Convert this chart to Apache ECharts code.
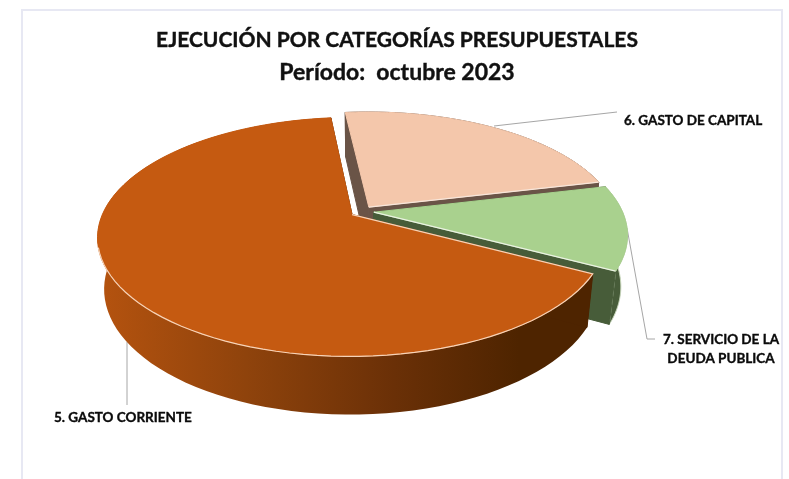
<!DOCTYPE html>
<html><head><meta charset="utf-8">
<style>html,body{margin:0;padding:0;background:#fff}#c{width:789px;height:479px}</style>
<script src="https://cdn.jsdelivr.net/npm/echarts@6/dist/echarts.min.js"></script>
</head><body><div id="c"></div>
<script>
var categories = ['5. GASTO CORRIENTE', '6. GASTO DE CAPITAL', '7. SERVICIO DE LA\nDEUDA PUBLICA'];
var shareValues = [65.5, 23, 11.5];
var topColors = ['#C55A11', '#F4C7AB', '#A9D18E'];
var titleLines = ['EJECUCIÓN POR CATEGORÍAS PRESUPUESTALES', 'Período:  octubre 2023'];

var firstSliceAngle = 118, explode = 0.048;
var view = {cx: 362, cy: 211.5, a: 114.2, b: 248.5, k: 0.1856, q: 0.975, h: 50};
var paint = [3, 1, 2];

function project(u, v, low) {
  var s = 1 / (1 - view.k * v), q = low ? view.q : 1;
  return [view.cx + view.b * u * s * q, view.cy + view.a * v * s * q + (low ? view.h * s : 0)];
}
var total = shareValues.reduce(function (a, b) { return a + b; }, 0);

function sliceShapes(i) {
  var before = 0;
  for (var j = 0; j < i; j++) before += shareValues[j];
  var t0 = firstSliceAngle + before / total * 360;
  var t1 = t0 + shareValues[i] / total * 360;
  var mid = (t0 + t1) / 2 * Math.PI / 180;
  var du = explode * Math.sin(mid), dv = -explode * Math.cos(mid);
  var arc = [], arcLow = [];
  for (var t = t0; t <= t1 + 0.001; t += (t1 - t0) / 90) {
    var r = t * Math.PI / 180, u = du + Math.sin(r), v = dv - Math.cos(r);
    arc.push(project(u, v, false));
    arcLow.push(project(u, v, true));
  }
  var apex = project(du, dv, false), apexLow = project(du, dv, true);
  var last = arc.length - 1;
  var front = i === 0 ? [apex].concat(arc.slice(0, 53)) : [apex, arc[last]];
  return {
    top: [apex].concat(arc),
    startWall: [apex, arc[0], arcLow[0], apexLow],
    endWall: [apex, arc[last], arcLow[last], apexLow],
    outer: arc.concat(arcLow.slice().reverse()),
    front: front
  };
}
var wallFill = [
  new echarts.graphic.LinearGradient(0, 0, 1, 0, [
    {offset: 0, color: '#B5530F'}, {offset: 0.3, color: '#8F430C'},
    {offset: 0.6, color: '#6A3007'}, {offset: 0.85, color: '#4E2400'}, {offset: 1, color: '#4E2400'}]),
  '#6A5447', '#475C39'
];
var edgeColors = ['#F6D3B8', '#F8E6DA', '#EAF2E2'];
function poly(points, fill, stroke, z2) {
  return {type: 'polygon', z2: z2, shape: {points: points}, style: {fill: fill, stroke: stroke || fill, lineWidth: 1}};
}
function renderSlice(params) {
  var i = params.dataIndex, g = sliceShapes(i), z = paint[i] * 10, w = wallFill[i];
  return {type: 'group', children: [
    poly(g.outer, w, i === 2 ? '#C9D8BC' : (i === 0 ? 'rgba(0,0,0,0)' : null), z),
    poly(g.startWall, i === 0 ? '#4E2400' : w, null, z + 1),
    poly(g.endWall, i === 0 ? '#4E2400' : w, null, z + 2),
    poly(g.top, topColors[i], null, z + 3),
    {type: 'polyline', z2: z + 4, shape: {points: g.front}, style: {stroke: edgeColors[i], lineWidth: 1.2, fill: null}}
  ]};
}
function leader(points) {
  return {type: 'polyline', shape: {points: points}, style: {stroke: '#A6A6A6', lineWidth: 1, fill: null}, z: 1};
}
function label(text, x, y, align) {
  return {type: 'text', x: x, y: y, z: 20, style: {text: text, fill: '#0A0A0A', stroke: '#0A0A0A', lineWidth: 0.35, align: align, verticalAlign: 'middle',
    font: 'bold 13.5px Lato', lineHeight: 19}};
}
var chart = echarts.init(document.getElementById('c'), null, {renderer: 'canvas'});
var titleRich = function (size) {
  return {fontFamily: 'Lato', fontWeight: 'bold', fontSize: size, lineHeight: 32, color: '#111111', textBorderColor: '#111111', textBorderWidth: 0.4};
};
chart.setOption({
  animation: false,
  backgroundColor: '#FFFFFF',
  title: {text: '{a|' + titleLines[0] + '}\n{b|' + titleLines[1] + '}', left: 392, top: 19.5, textAlign: 'center',
    textStyle: {rich: {a: titleRich(21), b: titleRich(23)}}},
  graphic: [
    {type: 'rect', z: 0, shape: {x: 22, y: 10, width: 760, height: 490}, style: {fill: '#FFFFFF', stroke: '#E7E8F3', lineWidth: 2}},
    leader([[494, 126], [617, 112]]),
    leader([[627, 228], [647, 339], [655, 339]]),
    leader([[127, 342], [127, 405]]),
    label(categories[1], 624, 121, 'left'),
    label(categories[2], 721, 349, 'center'),
    label(categories[0], 54, 418, 'left')
  ],
  series: [{type: 'custom', coordinateSystem: 'none', data: shareValues, renderItem: renderSlice, silent: true, z: 5}]
});
</script></body></html>
